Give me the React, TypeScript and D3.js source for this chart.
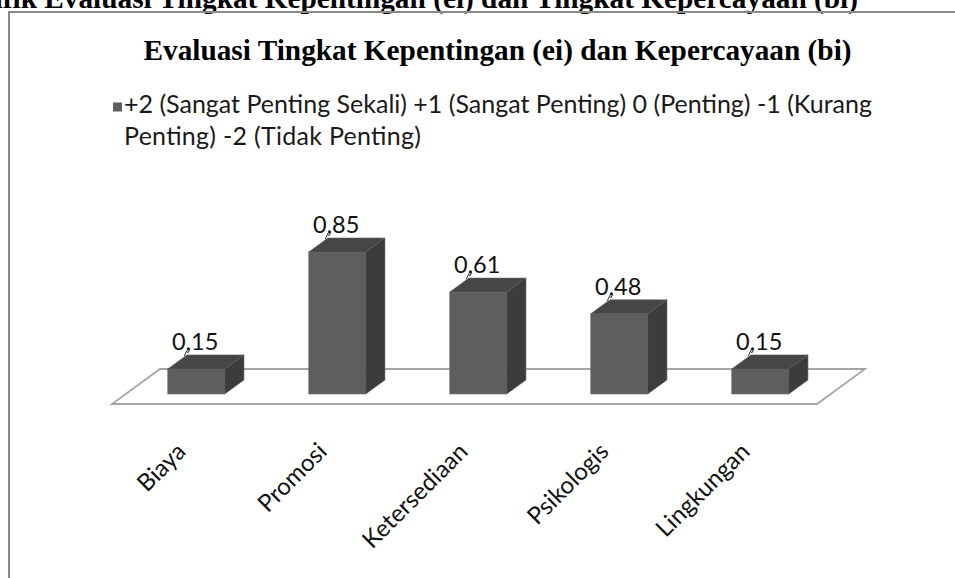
import React from "react";
import * as d3 from "d3";

const categories: string[] = ["Biaya", "Promosi", "Ketersediaan", "Psikologis", "Lingkungan"];
const values: number[] = [0.15, 0.85, 0.61, 0.48, 0.15];
const legendLines: string[] = [
  "+2 (Sangat Penting Sekali) +1 (Sangat Penting) 0 (Penting) -1 (Kurang",
  "Penting) -2 (Tidak Penting)",
];
const pageTitle = "Grafik Evaluasi Tingkat Kepentingan (ei) dan Tingkat Kepercayaan (bi)";
const chartTitle = "Evaluasi Tingkat Kepentingan (ei) dan Kepercayaan (bi)";

const W = 955;
const H = 578;

export default function App() {
  const floorX0 = 112;
  const floorX1 = 817;
  const floorY = 404;
  const DX = 48;
  const DY = 35;
  const z0 = 0.286;
  const z1 = 0.686;

  const x = d3
    .scaleBand<string>()
    .domain(categories)
    .range([floorX0, floorX1])
    .paddingInner(0.596)
    .paddingOuter(0.298);

  const baseY = floorY - z0 * DY;
  const y = d3.scaleLinear().domain([0, 1]).range([baseY, baseY - 167]);

  const bw = x.bandwidth();
  const ddx = (z1 - z0) * DX;
  const ddy = (z1 - z0) * DY;

  const fmt = (v: number) => d3.format(".2f")(v).replace(".", ",");

  const floorPts: [number, number][] = [
    [floorX0, floorY],
    [floorX1, floorY],
    [floorX1 + DX, floorY - DY],
    [floorX0 + DX, floorY - DY],
  ];
  const line = d3.line();

  const sans = "Lato, 'Noto Sans', sans-serif";
  const serif = "'Liberation Serif', 'Times New Roman', serif";

  return (
    <svg
      width={W}
      height={H}
      style={{ position: "absolute", left: 0, top: 0, background: "#fff", overflow: "hidden" }}
    >
      <rect x={0} y={0} width={W} height={H} fill="#fff" />
      <text
        x={858}
        y={8}
        textAnchor="end"
        fontFamily={serif}
        fontWeight="bold"
        fontSize={29.3}
        fill="#000"
      >
        {pageTitle}
      </text>
      <path d={`M9,${H} L9,12 L${W},12`} fill="none" stroke="#8a8a8a" strokeWidth={2} />

      <text
        x={497.5}
        y={60}
        textAnchor="middle"
        fontFamily={serif}
        fontWeight="bold"
        fontSize={29.3}
        fill="#000"
      >
        {chartTitle}
      </text>

      <rect x={113} y={102.5} width={9} height={9} fill="#5f5f5f" />
      {legendLines.map((t, i) => (
        <text
          key={i}
          x={124}
          y={113 + i * 32}
          fontFamily={sans}
          fontSize={25}
          fill="#1a1a1a"
          textLength={i === 0 ? 748 : 297}
          lengthAdjust="spacing"
        >
          {t}
        </text>
      ))}

      <path d={line(floorPts) + "Z"} fill="#fff" stroke="#a6a6a6" strokeWidth={1.8} />

      {categories.map((c, i) => {
        const v = values[i];
        const fx = (x(c) as number) + z0 * DX;
        const ty = y(v);
        const by = y(0);
        const side: [number, number][] = [
          [fx + bw, ty],
          [fx + bw + ddx, ty - ddy],
          [fx + bw + ddx, by - ddy],
          [fx + bw, by],
        ];
        const top: [number, number][] = [
          [fx, ty],
          [fx + ddx, ty - ddy],
          [fx + bw + ddx, ty - ddy],
          [fx + bw, ty],
        ];
        const cx = fx + bw / 2;
        const backTop = ty - ddy;
        return (
          <g key={c}>
            <rect x={fx} y={ty} width={bw} height={by - ty} fill="#5e5e5e" stroke="#6e6e6e" strokeWidth={0.6} />
            <path d={line(side) + "Z"} fill="#3c3c3c" stroke="#555" strokeWidth={0.6} />
            <path d={line(top) + "Z"} fill="#464646" stroke="#5a5a5a" strokeWidth={0.6} />
            <line
              x1={cx - 12}
              y1={backTop + 1}
              x2={cx - 8}
              y2={backTop - 7}
              stroke="#333"
              strokeWidth={1}
            />
            <text
              x={cx - 1}
              y={backTop - 5}
              textAnchor="middle"
              fontFamily={sans}
              fontSize={23.5}
              fill="#111"
            >
              {fmt(v)}
            </text>
            <text
              transform={`translate(${cx - 9},453) rotate(-45)`}
              textAnchor="end"
              fontFamily={sans}
              fontSize={24}
              fill="#111"
            >
              {c}
            </text>
          </g>
        );
      })}
    </svg>
  );
}
